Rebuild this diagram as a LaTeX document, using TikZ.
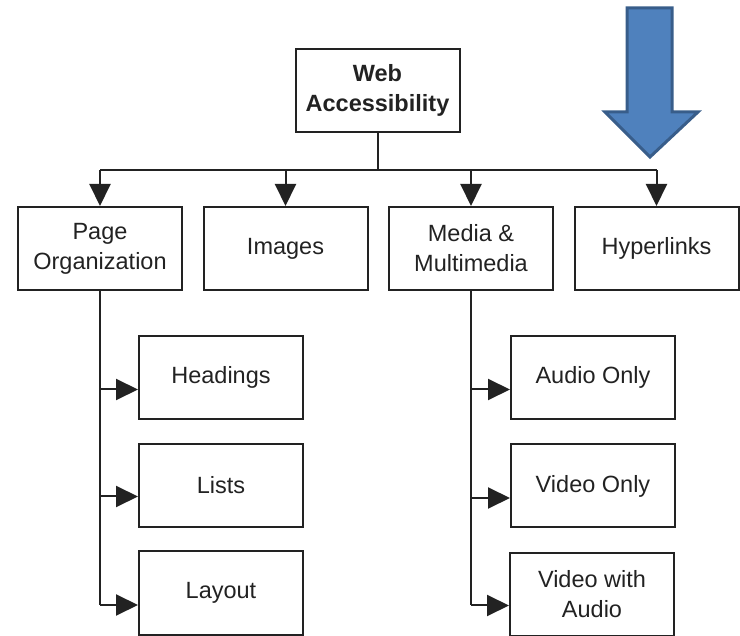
\documentclass[tikz,border=0pt]{standalone}
\usepackage{fontspec}
\setmainfont{Liberation Sans}
\usetikzlibrary{arrows.meta,calc}
\definecolor{arrowfill}{HTML}{4F81BD}
\definecolor{arrowline}{HTML}{385D8A}
\definecolor{ink}{HTML}{222222}
\begin{document}
\begin{tikzpicture}[x=1pt,y=-1pt,
  box/.style={draw=ink,line width=2pt,minimum width=164pt,minimum height=83pt,
    inner sep=2pt,align=center,font=\fontsize{23.5}{30}\selectfont,text=ink},
  link/.style={draw=ink,line width=2pt},
  tri/.style={-{Triangle[length=22pt,width=21pt]}}]
\useasboundingbox (0,0) rectangle (740,636);
% blue arrow
\fill[arrowfill,draw=arrowline,line width=3pt,line join=miter]
  (627,8) -- (672,8) -- (672,112) -- (698,112) -- (650,157) -- (605,112) -- (627,112) -- cycle;
% nodes
\node[box,font=\bfseries\fontsize{23.5}{30}\selectfont] (web) at (377.5,90.5) {Web\\Accessibility};
\node[box] (po) at (100,248.5) {Page\\Organization};
\node[box] (img) at (285.5,248.5) {Images};
\node[box] (media) at (471,248.5) {Media \&\\Multimedia};
\node[box] (hyp) at (656.5,248.5) {Hyperlinks};
\node[box] (head) at (221,377.5) {Headings};
\node[box] (lists) at (221,485.5) {Lists};
\node[box] (layout) at (221,593) {Layout};
\node[box] (audio) at (593,377.5) {Audio Only};
\node[box] (vonly) at (593,486) {Video Only};
\node[box] (vwa) at (592,594.5) {Video with\\Audio};
% top bus
\coordinate (bus) at (377.5,170.5);
\draw[link] (web.south) -- (bus);
\draw[link] (po.north |- bus) -- (hyp.north |- bus);
\foreach \n in {po,img,media,hyp}
  \draw[link,tri] (\n.north |- bus) -- (\n.north);
% left branch
\coordinate (hA) at ($(head.west)+(0,12)$);
\coordinate (hB) at ($(lists.west)+(0,11)$);
\coordinate (hC) at ($(layout.west)+(0,12)$);
\draw[link] (po.south) -- (po.south |- hC);
\foreach \c in {hA,hB,hC}
  \draw[link,tri] (po.south |- \c) -- (\c);
% right branch
\coordinate (mA) at ($(audio.west)+(0,12)$);
\coordinate (mB) at ($(vonly.west)+(0,12)$);
\coordinate (mC) at ($(vwa.west)+(0,11)$);
\draw[link] (media.south) -- (media.south |- mC);
\foreach \c in {mA,mB,mC}
  \draw[link,tri] (media.south |- \c) -- (\c);
\end{tikzpicture}
\end{document}
